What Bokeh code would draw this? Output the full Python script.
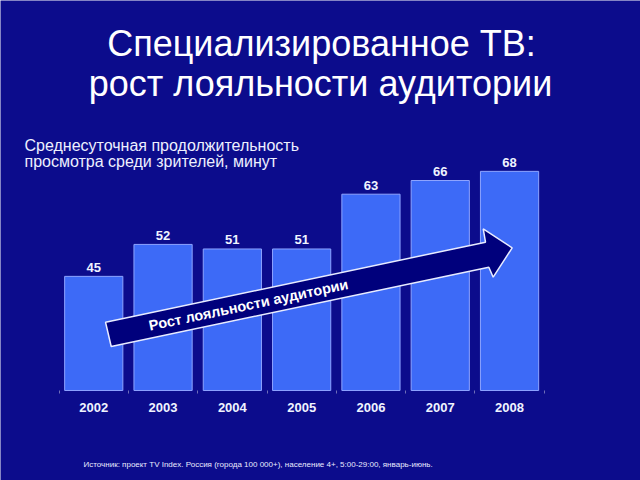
from bokeh.plotting import figure
from bokeh.models import Range1d, FixedTicker, Label
from bokeh.core.properties import value
from bokeh.embed import file_html
from bokeh.resources import INLINE

# ---- data ----
years = ["2002", "2003", "2004", "2005", "2006", "2007", "2008"]
minutes = [45, 52, 51, 51, 63, 66, 68]
baseline_value = 20

title_line1 = "Специализированное ТВ:"
title_line2 = "рост лояльности аудитории"
subtitle_line1 = "Среднесуточная продолжительность"
subtitle_line2 = "просмотра среди зрителей, минут"
arrow_text = "Рост лояльности аудитории"
source_note = "Источник: проект TV Index. Россия (города 100 000+), население 4+, 5:00-29:00, январь-июнь."

# annotation arrow outline (data coordinates: category index, minutes)
arrow_x = [0.17, 5.653, 5.620, 6.038, 5.764, 5.701, 0.252]
arrow_y = [34.96, 52.49, 55.42, 51.26, 44.82, 47.01, 29.64]
arrow_label_x = 2.233
arrow_label_y = 38.75

BG = "#0c0c8c"
FONT = "Liberation Sans"
W, H = 640, 480

idx = list(range(len(years)))

p = figure(width=W, height=H, output_backend="svg", toolbar_location=None,
           x_range=Range1d(-1.3456, 7.8896), y_range=Range1d(0.285, 105.43),
           y_axis_location=None, min_border=0)
p.background_fill_color = BG
p.border_fill_color = BG
p.outline_line_color = None
p.grid.visible = False

p.vbar(x=idx, top=minutes, bottom=baseline_value, width=0.84,
       fill_color="#3d6af7", line_color="#8ea4ff", line_width=1)

p.text(x=idx, y=minutes, text=[str(v) for v in minutes], y_offset=-9,
       text_align="center", text_baseline="alphabetic",
       text_font=value(FONT), text_font_style="bold", text_font_size="13px",
       text_color="#f0f4ff")

p.patch(arrow_x, arrow_y, fill_color="#00007c", line_color="#e8ecff", line_width=1.5)
p.text(x=[arrow_label_x], y=[arrow_label_y], text=[arrow_text], angle=11.9, angle_units="deg",
       text_align="center", text_baseline="middle",
       text_font=value(FONT), text_font_style="bold", text_font_size="14.5px",
       text_color="white")

ax = p.xaxis[0]
ax.fixed_location = baseline_value
ax.ticker = FixedTicker(ticks=idx, minor_ticks=[i - 0.5 for i in range(len(years) + 1)])
ax.major_label_overrides = {i: y for i, y in zip(idx, years)}
ax.axis_line_color = None
ax.major_tick_line_color = None
ax.major_tick_out = 0
ax.major_tick_in = 0
ax.minor_tick_in = 0
ax.minor_tick_out = 3
ax.minor_tick_line_color = "#6f6fb8"
ax.major_label_standoff = 10
ax.major_label_text_font = FONT
ax.major_label_text_font_style = "bold"
ax.major_label_text_font_size = "13px"
ax.major_label_text_color = "#f0f4ff"

# texts placed in screen units (frame = whole canvas), sy = visual centre line
def add_label(txt, sx, sy, size, align="left", bold=False, color="white"):
    p.add_layout(Label(x=sx, y=H - sy, x_units="screen", y_units="screen",
                       text=txt, text_align=align, text_baseline="middle",
                       text_font=FONT, text_font_size=size,
                       text_font_style="bold" if bold else "normal",
                       text_color=color))

add_label(title_line1, 321, 43, "36px", align="center")
add_label(title_line2, 320, 83, "36px", align="center")
add_label(subtitle_line1, 24, 145, "16px", color="#eef0ff")
add_label(subtitle_line2, 24, 161, "16px", color="#eef0ff")
add_label(source_note, 83, 464, "8px", color="#e8eaff")

open("out.html", "w").write(file_html(p, INLINE))
